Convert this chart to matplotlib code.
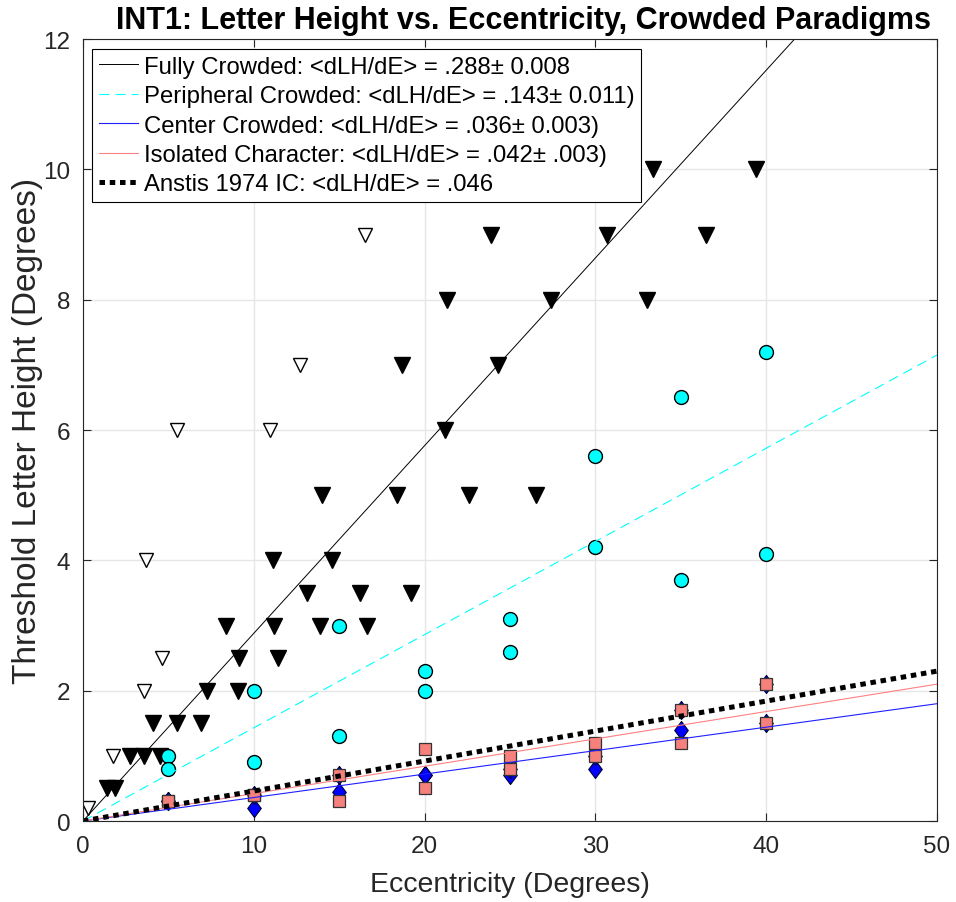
import numpy as np
import matplotlib
matplotlib.use("Agg")
import matplotlib.pyplot as plt

plt.rcParams['font.family'] = ['Liberation Sans', 'DejaVu Sans']

# fully crowded, filled triangles
fc_x = [1.4, 1.9, 2.75, 3.6, 4.5, 4.1, 5.5, 6.9, 7.25, 9.1, 9.15, 11.4,
        8.4, 11.2, 13.9, 16.6, 13.1, 16.2, 19.2, 11.1, 14.6,
        14.0, 18.4, 22.6, 26.5, 21.2, 18.7, 24.3, 21.3, 27.4, 33.0,
        23.9, 30.7, 36.5, 33.4, 39.4]
fc_y = [0.5, 0.5, 1.0, 1.0, 1.0, 1.5, 1.5, 1.5, 2.0, 2.0, 2.5, 2.5,
        3.0, 3.0, 3.0, 3.0, 3.5, 3.5, 3.5, 4.0, 4.0,
        5.0, 5.0, 5.0, 5.0, 6.0, 7.0, 7.0, 8.0, 8.0, 8.0,
        9.0, 9.0, 9.0, 10.0, 10.0]

# fully crowded, open triangles
fo_x = [0.3, 1.75, 3.6, 4.6, 3.7, 5.5, 10.95, 12.7, 16.5]
fo_y = [0.2, 1.0, 2.0, 2.5, 4.0, 6.0, 6.0, 7.0, 9.0]

# peripheral crowded
pc_x = [5, 5, 10, 10, 15, 15, 20, 20, 25, 25, 30, 30, 35, 35, 40, 40]
pc_y = [1.0, 0.8, 2.0, 0.9, 3.0, 1.3, 2.3, 2.0, 3.1, 2.6, 5.6, 4.2, 6.5, 3.7, 7.2, 4.1]

# center crowded
cc_x = [5, 5, 10, 10, 15, 15, 20, 20, 25, 25, 30, 30, 35, 35, 40, 40]
cc_y = [0.3, 0.3, 0.2, 0.4, 0.45, 0.7, 0.7, 0.7, 0.7, 0.8, 0.8, 1.0, 1.4, 1.7, 2.1, 1.5]

# isolated character
ic_x = [5, 5, 10, 10, 15, 15, 20, 20, 25, 25, 30, 30, 35, 35, 40, 40]
ic_y = [0.3, 0.3, 0.4, 0.4, 0.7, 0.3, 1.1, 0.5, 1.0, 0.8, 1.2, 1.0, 1.7, 1.2, 2.1, 1.5]

# fitted slopes
slopes = [0.288, 0.143, 0.036, 0.042, 0.046]
labels = ['Fully Crowded: <dLH/dE> = .288\u00b1 0.008',
          'Peripheral Crowded: <dLH/dE> = .143\u00b1 0.011)',
          'Center Crowded: <dLH/dE> = .036\u00b1 0.003)',
          'Isolated Character: <dLH/dE> = .042\u00b1 .003)',
          'Anstis 1974 IC: <dLH/dE> = .046']

# matlab-ish diamond (taller than wide)
diamond = [(0, 1), (0.75, 0), (0, -1), (-0.75, 0), (0, 1)]

fig = plt.figure(figsize=(9.56, 9.03), dpi=100)
ax = fig.add_axes([0.0868, 0.0897, 0.8933, 0.866])

ax.plot(fc_x, fc_y, 'v', color='k', ms=11, mec='k', ls='none')
ax.plot(fo_x, fo_y, 'v', mfc='white', mec='k', ms=10, mew=1.0, ls='none')
ax.plot(pc_x, pc_y, 'o', mfc='#00ffff', mec='k', ms=10, mew=1.0, ls='none')
ax.plot(cc_x, cc_y, marker=diamond, mfc='#0000ff', mec='#000033', ms=13, mew=0.8, ls='none')
ax.plot(ic_x, ic_y, 's', mfc='#f5807c', mec='#333333', ms=8.8, mew=0.9, ls='none')

xf = np.array([0, 50])
ax.plot(xf, slopes[0] * xf, '-', color='k', lw=0.7, label=labels[0])
ax.plot(xf, slopes[1] * xf, color='#00ffff', lw=0.8, ls=(0, (9, 5.5)), label=labels[1])
ax.plot(xf, slopes[2] * xf, '-', color='#2020ff', lw=0.8, label=labels[2])
ax.plot(xf, slopes[3] * xf, '-', color='#ff8080', lw=0.8, label=labels[3])
ax.plot(xf, slopes[4] * xf, color='k', lw=3.6, ls=(0, (1.1, 0.95)), label=labels[4])

ax.set_xlim(0, 50)
ax.set_ylim(0, 12)
ax.set_xticks([0, 10, 20, 30, 40, 50])
ax.set_yticks([0, 2, 4, 6, 8, 10, 12])
ax.grid(True, color='#e6e6e6', lw=1.0)
ax.set_axisbelow(True)
ax.tick_params(direction='in', top=True, right=True, labelsize=17.5,
               length=6, color='#262626', labelcolor='#262626')
ax.tick_params(axis='x', pad=10)
ax.tick_params(axis='y', pad=9)
for s in ax.spines.values():
    s.set_color('#262626')
    s.set_linewidth(0.8)

ax.set_xlabel('Eccentricity (Degrees)', fontsize=20.5, color='#262626', labelpad=10)
ax.set_ylabel('Threshold Letter Height (Degrees)', fontsize=24, color='#262626', labelpad=0)
ax.set_title('INT1: Letter Height vs. Eccentricity, Crowded Paradigms',
             fontsize=22, fontweight='bold', pad=8, x=0.516)

leg = ax.legend(loc='upper left', bbox_to_anchor=(0.0105, 0.987), fontsize=17.2,
                frameon=True, fancybox=False, framealpha=1, edgecolor='k',
                handlelength=1.63, handletextpad=0.25, labelspacing=0.31,
                borderpad=0.28, borderaxespad=0.0)
leg.get_frame().set_linewidth(0.8)

fig.savefig('out.png', dpi=100)
